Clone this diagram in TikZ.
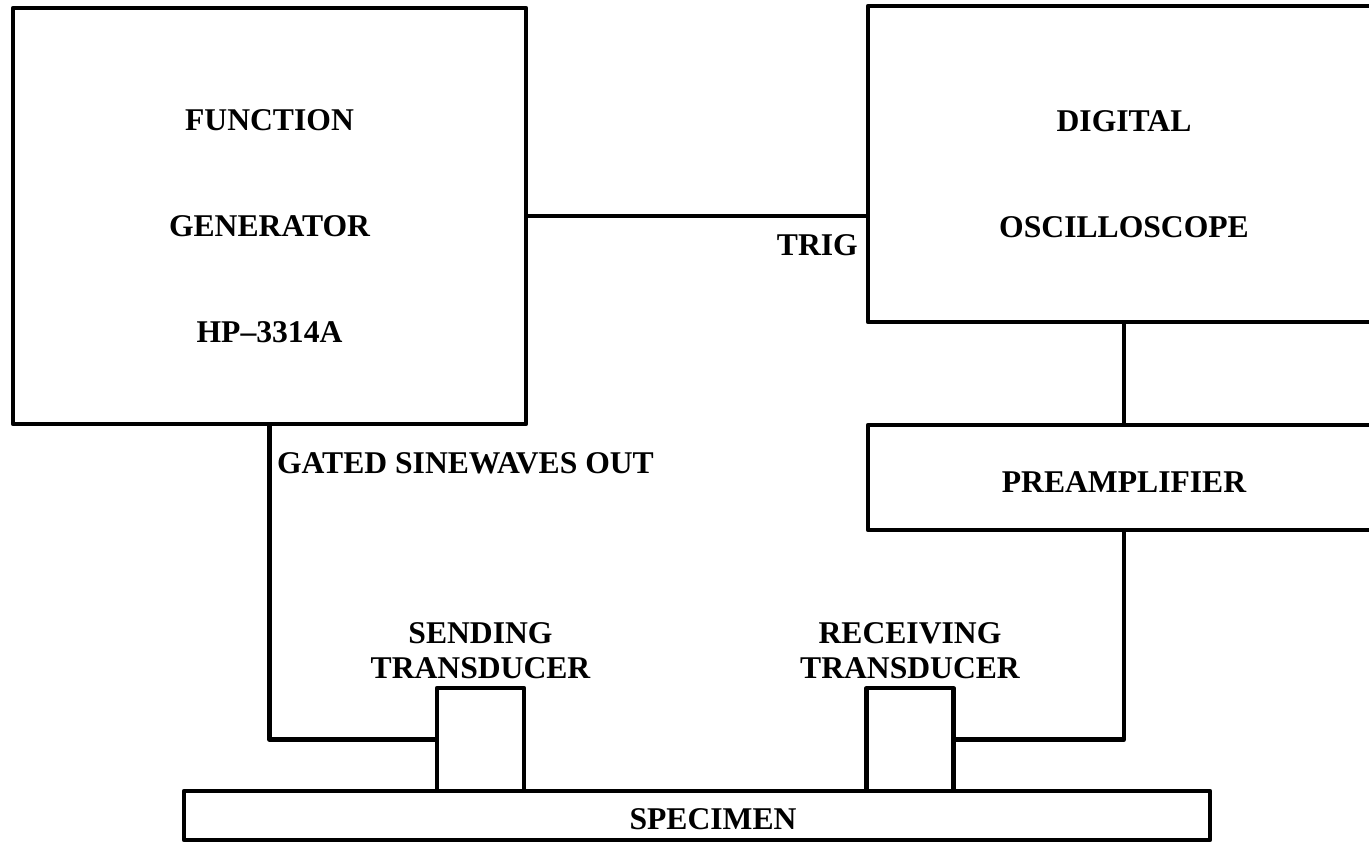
\documentclass[tikz,border=0pt]{standalone}
\usepackage{fontspec}
\setmainfont{Liberation Serif}
\usetikzlibrary{positioning}
\newcommand{\padtop}[1]{\rule{0pt}{#1}}

\begin{document}
\begin{tikzpicture}[x=1cm, y=1cm, line width=1.2pt, line join=round,
  unit/.style={draw, rectangle, inner sep=0pt, align=center,
               font=\fontsize{9}{30.1}\selectfont\bfseries},
  probe/.style={draw, rectangle, inner sep=0pt,
                minimum width=0.87cm, minimum height=1.03cm},
  tag/.style={inner sep=0pt, align=center,
              font=\fontsize{9}{9.9}\selectfont\bfseries},
  wire/.style={line width=1.2pt}]
\useasboundingbox (0,0) rectangle (13.69,-8.43);
\clip (0,0) rectangle (13.69,-8.43);
\node[unit, minimum width=5.13cm, minimum height=4.16cm] (fg) at (2.695,-2.16)
  {\padtop{11.7pt}FUNCTION\\GENERATOR\\HP--3314A};
\node[unit, minimum width=5.12cm, minimum height=3.16cm] (osc) at (11.24,-1.64)
  {\padtop{11.7pt}DIGITAL\\OSCILLOSCOPE};
\node[unit, minimum width=5.12cm, minimum height=1.05cm] (pre) at (11.24,-4.775)
  {\padtop{8.8pt}PREAMPLIFIER};
\node[unit, minimum width=10.26cm, minimum height=0.49cm] (spec) at (6.97,-8.155)
  {\padtop{8.3pt}\hspace*{0.32cm}SPECIMEN};
\node[probe] (send) at (4.805,-7.395) {};
\node[probe] (recv) at (9.10,-7.395) {};
\node[tag, above=0.05cm of send] (sendlbl) {SENDING\\TRANSDUCER};
\node[tag, above=0.05cm of recv] (recvlbl) {RECEIVING\\TRANSDUCER};
\draw[wire] (fg.east) -- (fg.east -| osc.west) coordinate (trig);
\node[tag, anchor=base east] (triglbl) at ([shift={(-0.06,-0.39)}]trig) {TRIG};
\draw[wire] (osc.south) -- (pre.north);
\draw[wire] (fg.south) |- (send.west);
\node[tag, anchor=base west] (gatedlbl) at ([shift={(0.055,-0.47)}]fg.south)
  {GATED SINEWAVES OUT};
\draw[wire] (pre.south) |- (recv.east);
\end{tikzpicture}
\end{document}
